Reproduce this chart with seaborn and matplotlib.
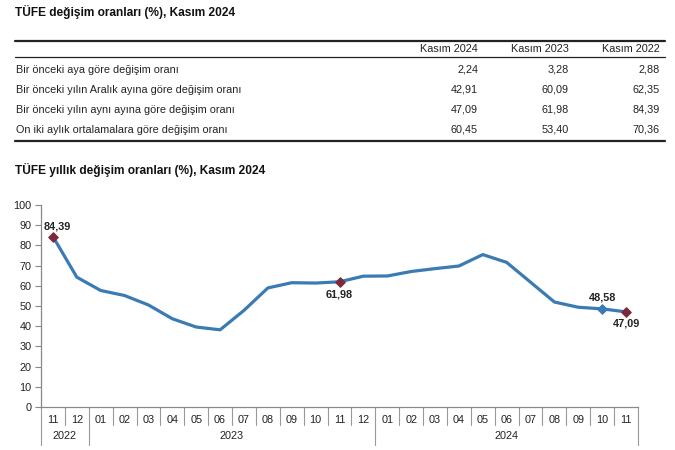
import matplotlib
matplotlib.use("Agg")
import matplotlib.pyplot as plt
import matplotlib.transforms as mtransforms
from matplotlib.lines import Line2D
import seaborn as sns
import pandas as pd

# ---- data ----
table_cols = ["Kasım 2024", "Kasım 2023", "Kasım 2022"]
table_rows = [
    "Bir önceki aya göre değişim oranı",
    "Bir önceki yılın Aralık ayına göre değişim oranı",
    "Bir önceki yılın aynı ayına göre değişim oranı",
    "On iki aylık ortalamalara göre değişim oranı",
]
table_vals = [
    ["2,24", "3,28", "2,88"],
    ["42,91", "60,09", "62,35"],
    ["47,09", "61,98", "84,39"],
    ["60,45", "53,40", "70,36"],
]
months = ["11", "12", "01", "02", "03", "04", "05", "06", "07", "08", "09", "10",
          "11", "12", "01", "02", "03", "04", "05", "06", "07", "08", "09", "10", "11"]
years = ["2022", "2023", "2024"]
year_start = [0, 2, 14]   # index of first month of each year
values = [84.39, 64.27, 57.68, 55.18, 50.51, 43.68, 39.59, 38.21, 47.83, 58.94,
          61.53, 61.36, 61.98, 64.77, 64.86, 67.07, 68.50, 69.80, 75.45, 71.60,
          61.78, 51.97, 49.38, 48.58, 47.09]
highlight_red = [0, 12, 24]
highlight_blue = [23]
label_text = {0: "84,39", 12: "61,98", 23: "48,58", 24: "47,09"}

sns.set_style("white")
plt.rcParams["font.family"] = ["Liberation Sans", "DejaVu Sans"]

W, H = 675, 450
fig = plt.figure(figsize=(6.75, 4.5), dpi=100)

def fx(px):
    return px / W

def fy(py):
    return 1 - py / H

TXT = "#222222"
FS = 7.8

# ---- top title ----
fig.text(fx(15), fy(12), "TÜFE değişim oranları (%), Kasım 2024", fontsize=8.6,
         fontweight="bold", va="center", ha="left", color="#111111")

# ---- table ----
def hline(py, lw):
    fig.add_artist(Line2D([fx(15), fx(665)], [fy(py), fy(py)], lw=lw, color="#222222"))

hline(41, 1.6)
hline(57, 0.9)
hline(141, 1.6)
col_right = [478, 569, 660]
for c, lab in enumerate(table_cols):
    fig.text(fx(col_right[c]), fy(49), lab, fontsize=FS, ha="right", va="center", color=TXT)
row_y = [70, 90, 110, 130]
for r, lab in enumerate(table_rows):
    fig.text(fx(16), fy(row_y[r]), lab, fontsize=FS, ha="left", va="center", color=TXT)
    for c in range(3):
        fig.text(fx(col_right[c]), fy(row_y[r]), table_vals[r][c], fontsize=FS,
                 ha="right", va="center", color=TXT)

# ---- chart title ----
fig.text(fx(15), fy(170), "TÜFE yıllık değişim oranları (%), Kasım 2024", fontsize=8.6,
         fontweight="bold", va="center", ha="left", color="#111111")

# ---- chart ----
ax = fig.add_axes([fx(41), fy(407), fx(638) - fx(41), fy(205) - fy(407)])
df = pd.DataFrame({"i": list(range(len(values))), "v": values})
sns.lineplot(data=df, x="i", y="v", ax=ax, color="#3b7bb3", lw=2.3)
ax.scatter(highlight_red, [values[k] for k in highlight_red], marker="D", s=22,
           color="#7b2a3e", zorder=5)
ax.scatter(highlight_blue, [values[k] for k in highlight_blue], marker="D", s=22,
           color="#3b7bb3", zorder=5)

ax.set_xlim(-0.5, len(values) - 0.5)
ax.set_ylim(0, 100)
ax.set_yticks(range(0, 101, 10))
ax.tick_params(axis="y", labelsize=FS, length=4, width=0.8, color="#888888",
               labelcolor=TXT, pad=3, left=True)
ax.set_xticks([])
ax.set_xlabel("")
ax.set_ylabel("")
for s in ["top", "right"]:
    ax.spines[s].set_visible(False)
for s in ["left", "bottom"]:
    ax.spines[s].set_color("#888888")
    ax.spines[s].set_linewidth(0.9)

# data labels (offsets in points)
offsets = {0: (3, 7), 12: (0, -9.5), 23: (0, 8.5), 24: (0, -8.5)}
for k, txt in label_text.items():
    ax.annotate(txt, (k, values[k]), xytext=offsets[k], textcoords="offset points",
                ha="center", va="center", fontsize=FS, fontweight="bold", color=TXT)

# category axis: month labels and separators
trans = mtransforms.blended_transform_factory(ax.transData, ax.transAxes)
axh_px = 407 - 205
def ay(px_below):
    return -px_below / axh_px

for i, m in enumerate(months):
    ax.text(i, ay(13), m, transform=trans, ha="center", va="center", fontsize=FS, color=TXT)
year_bounds = set(year_start + [len(months)])
for b in range(len(months) + 1):
    x = b - 0.5
    depth = 38 if b in year_bounds else 18
    ax.plot([x, x], [0, ay(depth)], transform=trans, color="#999999", lw=0.8, clip_on=False)
for y, st in enumerate(year_start):
    end = year_start[y + 1] if y + 1 < len(year_start) else len(months)
    ax.text((st + end - 1) / 2, ay(29), years[y], transform=trans, ha="center", va="center",
            fontsize=FS, color=TXT)

fig.savefig("out.png", dpi=100)
